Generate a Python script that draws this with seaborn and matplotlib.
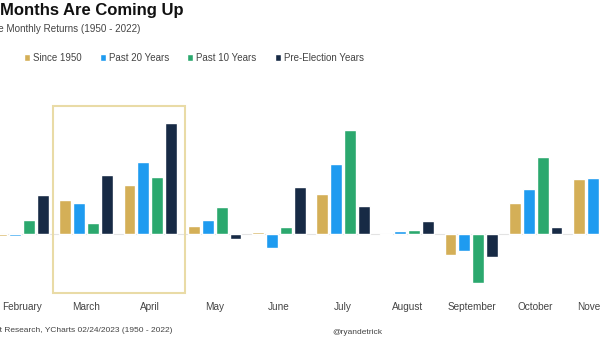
import numpy as np
import pandas as pd
import seaborn as sns
import matplotlib.pyplot as plt
from matplotlib.patches import Rectangle

# Average monthly S&P 500 returns (%), by lookback window
months = ["February", "March", "April", "May", "June",
          "July", "August", "September", "October", "November"]
series = ["Since 1950", "Past 20 Years", "Past 10 Years", "Pre-Election Years"]
since_1950 = [-0.06, 1.04, 1.50, 0.24, 0.05, 1.22, -0.02, -0.64, 0.96, 1.68]
past_20 = [-0.05, 0.96, 2.21, 0.43, -0.44, 2.14, 0.08, -0.51, 1.37, 1.70]
past_10 = [0.43, 0.35, 1.73, 0.84, 0.20, 3.18, 0.12, -1.49, 2.37, 3.20]
pre_election = [1.19, 1.80, 3.39, -0.15, 1.45, 0.87, 0.40, -0.71, 0.22, 1.50]
colors = ["#D4AF57", "#1E9BF0", "#2BA86E", "#172A45"]

rows = []
for name, vals in zip(series, [since_1950, past_20, past_10, pre_election]):
    for m, v in zip(months, vals):
        rows.append({"month": m, "series": name, "value": v})
df = pd.DataFrame(rows)

sns.set_theme(style="white")
plt.rcParams["font.family"] = ["Liberation Sans", "DejaVu Sans"]

W, H = 600, 338
fig = plt.figure(figsize=(W / 100, H / 100), dpi=100)
ax_bottom_px = 295
ax = fig.add_axes([0, (H - ax_bottom_px) / H, 1, ax_bottom_px / H])

sns.barplot(data=df, x="month", y="value", hue="series", hue_order=series,
            order=months, palette=colors, saturation=1, width=0.87, gap=0.15,
            ax=ax, legend=True)

# axis scaling: month pitch and percent scale in pixels
pitch, first_px = 64.2, 22
zero_px, per_pct = 234, 32.7
ax.set_xlim(-first_px / pitch, (W - first_px) / pitch)
ax.set_ylim(-(ax_bottom_px - zero_px) / per_pct, zero_px / per_pct)

ax.axhline(0, color="#e3e3e3", lw=0.8, zorder=0)
for s in ax.spines.values():
    s.set_visible(False)
ax.set_yticks([])
ax.set_xlabel("")
ax.set_ylabel("")
ax.tick_params(axis="x", length=0, pad=5, labelsize=7.2, labelcolor="#444444")

# highlight box around March-April
ax.add_patch(Rectangle((0.48, -1.80), 2.06, 5.71, fill=False,
                       edgecolor="#E9DBA6", lw=1.5, zorder=5, clip_on=False))

leg = ax.legend(loc="center left", bbox_to_anchor=(24 / W, 1 - 58 / ax_bottom_px),
                ncol=4, frameon=False, fontsize=7, handlelength=0.6,
                handleheight=0.6, handletextpad=0.3, columnspacing=1.9,
                borderpad=0, borderaxespad=0)
for t in leg.get_texts():
    t.set_color("#444444")

fig.text(0 / W, 1 - 10 / H, "Months Are Coming Up", ha="left", va="center",
         fontsize=12, fontweight="bold", color="#111111")
fig.text(140 / W, 1 - 29 / H, "S&P 500 Average Monthly Returns (1950 - 2022)",
         ha="right", va="center", fontsize=7.1, color="#444444")
fig.text(172 / W, 1 - 330 / H,
         "Source: Carson Investment Research, YCharts 02/24/2023 (1950 - 2022)",
         ha="right", va="center", fontsize=6, color="#444444")
fig.text(357 / W, 1 - 332 / H, "@ryandetrick", ha="center", va="center",
         fontsize=6, color="#444444")

fig.savefig("out.png", dpi=100, facecolor="white")
